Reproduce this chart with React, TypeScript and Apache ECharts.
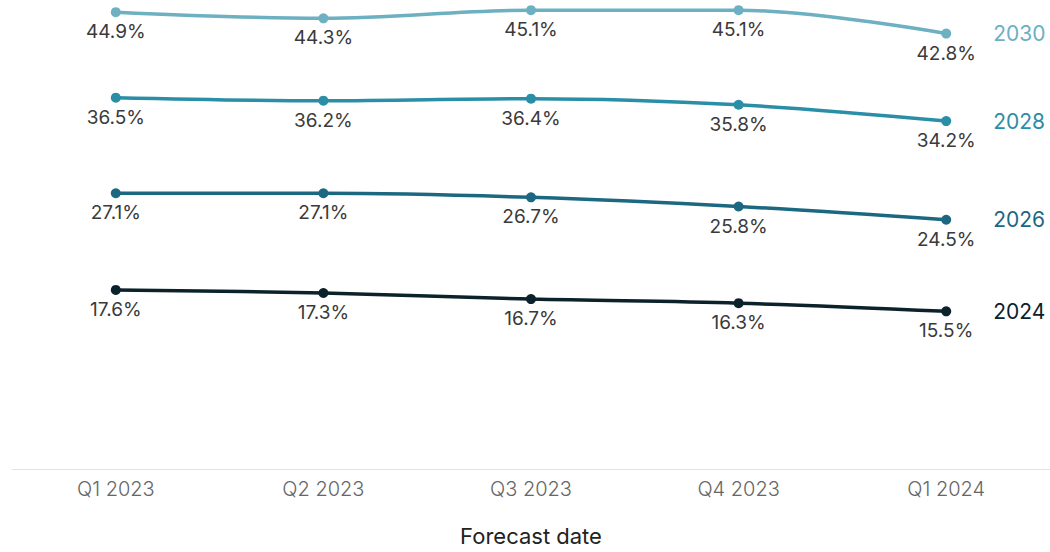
import React, { useEffect, useRef } from "react";
import * as echarts from "echarts";

const categories = ["Q1 2023", "Q2 2023", "Q3 2023", "Q4 2023", "Q1 2024"];
const seriesNames = ["2030", "2028", "2026", "2024"];
const values2030 = [44.9, 44.3, 45.1, 45.1, 42.8];
const values2028 = [36.5, 36.2, 36.4, 35.8, 34.2];
const values2026 = [27.1, 27.1, 26.7, 25.8, 24.5];
const values2024 = [17.6, 17.3, 16.7, 16.3, 15.5];
const colors = ["#6cb0c1", "#2a8ea7", "#1c6881", "#0b222b"];
const xAxisTitle = "Forecast date";

export default function App() {
  const ref = useRef<HTMLDivElement>(null);
  useEffect(() => {
    if (!ref.current) return;
    const chart = echarts.init(ref.current, null, { renderer: "svg" });
    const allValues = [values2030, values2028, values2026, values2024];
    const font = "Inter, 'Noto Sans', sans-serif";
    chart.setOption({
      animation: false,
      grid: { left: 12, right: -4, top: 1, bottom: 74, containLabel: false },
      xAxis: {
        type: "category",
        data: categories,
        boundaryGap: true,
        axisLine: { lineStyle: { color: "#e3e3e3", width: 1 } },
        axisTick: { show: false },
        axisLabel: {
          color: "#666",
          fontSize: 20,
          fontWeight: 300,
          fontFamily: font,
          margin: 10,
        },
        name: xAxisTitle,
        nameLocation: "middle",
        nameGap: 56,
        nameTextStyle: { color: "#222", fontSize: 22, fontFamily: font },
      },
      yAxis: {
        type: "value",
        min: 0,
        max: 46,
        show: false,
        splitLine: { show: false },
      },
      series: allValues.map((vals, i) => ({
        name: seriesNames[i],
        type: "line",
        data: vals,
        smooth: 0.35,
        clip: false,
        symbol: "circle",
        symbolSize: 10,
        lineStyle: { color: colors[i], width: 3.5 },
        itemStyle: { color: colors[i] },
        label: {
          show: true,
          position: "bottom",
          distance: 5,
          formatter: (p: any) => p.value.toFixed(1) + "%",
          color: "#3a3a3a",
          fontSize: 19,
          fontFamily: font,
        },
        endLabel: {
          show: true,
          formatter: seriesNames[i],
          color: colors[i],
          fontSize: 21,
          fontFamily: font,
          distance: 47,
        },
      })),
    });
    return () => chart.dispose();
  }, []);
  return (
    <div
      ref={ref}
      style={{ position: "absolute", left: 0, top: 0, width: 1050, height: 552, background: "#fff" }}
    />
  );
}
